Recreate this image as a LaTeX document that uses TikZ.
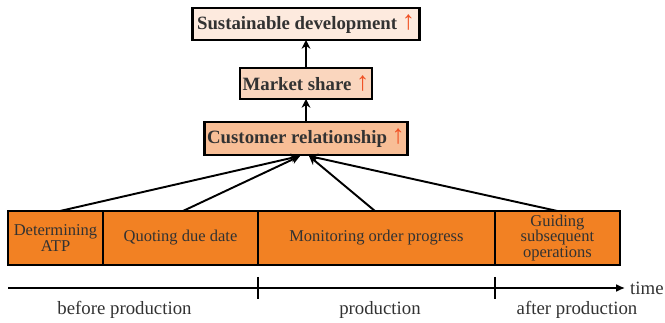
\documentclass[tikz,border=0pt]{standalone}
\usepackage{fontspec}
\setmainfont{Liberation Serif}
\usetikzlibrary{positioning,arrows.meta,calc}
\definecolor{stageorange}{RGB}{242,129,35}
\definecolor{custfill}{RGB}{248,190,150}
\definecolor{marketfill}{RGB}{250,214,190}
\definecolor{sustfill}{RGB}{253,234,222}
\definecolor{risered}{RGB}{240,80,35}
\definecolor{ink}{RGB}{50,50,50}
\newcommand{\rising}{\textcolor{risered}{\mdseries\fontsize{15}{15}\selectfont ↑}}

\begin{document}
\begin{tikzpicture}[x=0.02cm,y=-0.02cm,
  goal/.style={draw,line width=1.3pt,inner sep=0pt,outer sep=0pt,text=ink,font=\fontsize{10.7}{12}\selectfont\bfseries},
  stage/.style={draw,line width=1.4pt,fill=stageorange,inner sep=0pt,outer sep=0pt,align=center,text=ink,
    minimum height=1.08cm,font=\fontsize{9.4}{9}\selectfont},
  link/.style={line width=1.1pt,-{Stealth[length=5pt,width=5pt]}},
  axis/.style={line width=0.9pt},
  phase/.style={text=ink,font=\fontsize{10.7}{12}\selectfont}]
\useasboundingbox (0,0) rectangle (665,323);
% Goals
\node[goal,fill=sustfill,minimum width=4.54cm,minimum height=0.64cm] (sust) at (306,24) {Sustainable development \rising};
\node[goal,fill=marketfill,minimum width=2.64cm,minimum height=0.62cm] (market) at (306,83.5) {Market share \rising};
\node[goal,fill=custfill,minimum width=4.06cm,minimum height=0.66cm] (cust) at (306,138.5) {Customer relationship \rising};
\draw[link] (cust) -- (market);
\draw[link] (market) -- (sust);
% Stages
\node[stage,minimum width=1.9cm] (atp) at (55.5,238) {Determining\\ATP};
\node[stage,minimum width=3.1cm,right=0pt of atp] (quote) {Quoting due date};
\node[stage,minimum width=4.74cm,right=0pt of quote] (monitor) {Monitoring order progress};
\node[stage,minimum width=2.5cm,right=0pt of monitor] (guide) {Guiding\\subsequent\\operations};
% Stages feed the relationship
\coordinate (inL) at ($(cust.south)+(-6,1)$);
\coordinate (inR) at ($(cust.south)+(3,1)$);
\draw[link] ([xshift=0.09cm]atp.north) -- (inL);
\draw[link] ([xshift=0.05cm]quote.north) -- (inL);
\draw[link] ([xshift=-0.03cm]monitor.north) -- (inR);
\draw[link] (guide.north) -- (inR);
% Timeline
\coordinate (t0) at (8,288);
\coordinate (t1) at (625,288);
\draw[axis,-{Latex[length=5pt,width=4.5pt]}] (t0) -- (t1) node[right,inner sep=2.5pt,phase] (time) {time};
\draw[axis,line width=1.2pt] ($(quote.east |- t0)+(0,-11)$) -- ++(0,22);
\draw[axis,line width=1.2pt] ($(monitor.east |- t0)+(0,-11)$) -- ++(0,22);
\node[phase] (before) at (124.5,310) {before production};
\node[phase] (during) at (380,310) {production};
\node[phase] (after) at (577,310) {after production};
\end{tikzpicture}
\end{document}
